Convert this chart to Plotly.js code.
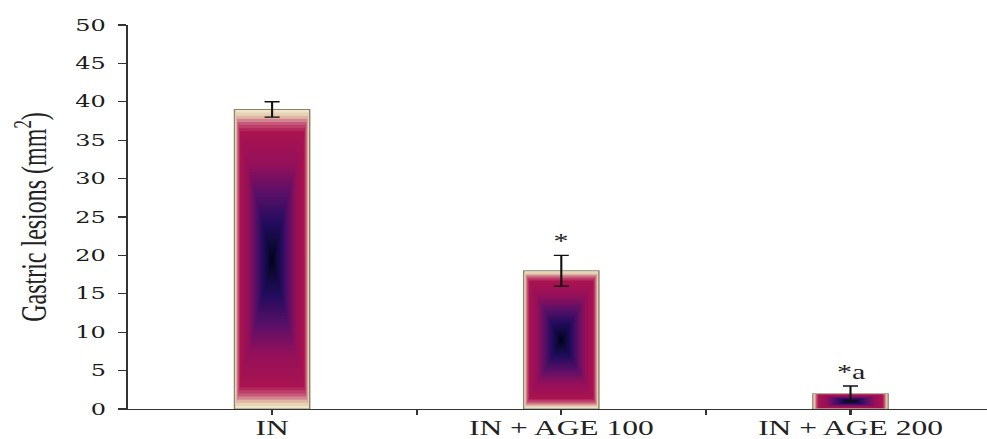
<!DOCTYPE html>
<html>
<head>
<meta charset="utf-8">
<script src="https://cdn.plot.ly/plotly-3.0.1.min.js"></script>
<style>
  html, body { margin: 0; padding: 0; background: #fff; overflow: hidden; }
  #wrap { width: 987px; height: 439px; overflow: hidden; }
  #chart { width: 658px; height: 439px; transform: scaleX(1.5); transform-origin: 0 0; }
</style>
</head>
<body>
<div id="wrap"><div id="chart"></div></div>
<script>
// ---- data ----
const categories = ["IN", "IN + AGE 100", "IN + AGE 200"];
const lesionMeans = [39, 18, 2];
const lesionErrors = [1, 2, 1];
const sigLabels = ["", "*", "*a"];
const yTickValues = [0, 5, 10, 15, 20, 25, 30, 35, 40, 45, 50];
const groupBoundaries = [0.5, 1.5];

// ---- style ----
const BAR_WIDTH = 0.26;
const LAYERS = 48;
const stops = [
  [0.00, "#eee4c8"],
  [0.035, "#e2c6aa"],
  [0.08, "#c85c7c"],
  [0.14, "#aa1450"],
  [0.36, "#94105a"],
  [0.55, "#5a1068"],
  [0.75, "#220c5e"],
  [0.92, "#0a0830"],
  [1.00, "#000010"]
];
function hexToRgb(h) {
  return [parseInt(h.slice(1,3),16), parseInt(h.slice(3,5),16), parseInt(h.slice(5,7),16)];
}
function colorAt(s) {
  for (let i = 0; i < stops.length - 1; i++) {
    const [a, ca] = stops[i], [b, cb] = stops[i+1];
    if (s >= a && s <= b) {
      const f = (s - a) / (b - a);
      const A = hexToRgb(ca), B = hexToRgb(cb);
      const c = A.map((v, j) => Math.round(v + (B[j] - v) * f));
      return `rgb(${c[0]},${c[1]},${c[2]})`;
    }
  }
  return stops[stops.length-1][1];
}

const traces = [];
for (let k = 0; k < LAYERS; k++) {
  const s = k / LAYERS;
  traces.push({
    type: "bar",
    x: categories,
    y: lesionMeans.map(v => v * (1 - s)),
    base: lesionMeans.map(v => v * s / 2),
    width: BAR_WIDTH * (1 - s),
    marker: {
      color: colorAt(s),
      line: { color: k === 0 ? "#8c8470" : "rgba(0,0,0,0)", width: k === 0 ? 1 : 0 }
    },
    hoverinfo: "skip",
    showlegend: false
  });
}
traces.push({
  type: "scatter",
  mode: "markers",
  x: categories,
  y: lesionMeans,
  marker: { size: 1, opacity: 0 },
  error_y: { type: "data", array: lesionErrors, visible: true, color: "#111", thickness: 1.4, width: 5 },
  showlegend: false,
  hoverinfo: "skip"
});
// helper trace for boundary ticks
traces.push({
  type: "scatter", mode: "markers", x: groupBoundaries, y: [0, 0],
  xaxis: "x2", yaxis: "y", marker: { size: 1, opacity: 0 }, showlegend: false, hoverinfo: "skip"
});

const annotations = [];
categories.forEach((c, i) => {
  if (sigLabels[i]) {
    annotations.push({
      x: c, y: lesionMeans[i] + lesionErrors[i], xref: "x", yref: "y",
      text: sigLabels[i], showarrow: false, yanchor: "bottom", yshift: 1,
      font: { family: "Liberation Serif, Times New Roman, serif", size: 20, color: "#222" }
    });
  }
});

const layout = {
  width: 658, height: 439,
  margin: { l: 85, r: 0, t: 25, b: 30, pad: 0 },
  paper_bgcolor: "#fff", plot_bgcolor: "#fff",
  barmode: "overlay",
  showlegend: false,
  xaxis: {
    type: "category",
    range: [-0.5, 2.472],
    showline: true, linecolor: "#333", linewidth: 1.2,
    ticks: "outside", ticklen: 5, tickwidth: 1.5, tickcolor: "#333",
    ticklabelstandoff: -5,
    showgrid: false, zeroline: false,
    tickfont: { family: "Liberation Serif, Times New Roman, serif", size: 21, color: "#222" }
  },
  xaxis2: {
    overlaying: "x", anchor: "y", side: "bottom",
    range: [-0.5, 2.472],
    tickvals: groupBoundaries, showticklabels: false,
    ticks: "outside", ticklen: 5, tickwidth: 1.5, tickcolor: "#333",
    showline: false, showgrid: false, zeroline: false
  },
  yaxis: {
    range: [0, 50],
    tickvals: yTickValues,
    showline: true, linecolor: "#333", linewidth: 1.2,
    ticks: "outside", ticklen: 5, tickwidth: 1.2, tickcolor: "#333",
    ticklabelstandoff: 5,
    showgrid: false, zeroline: false,
    tickfont: { family: "DejaVu Serif, serif", size: 16, color: "#1a1a1a" },
    title: {
      text: "Gastric lesions (mm<sup>2</sup>)",
      font: { family: "Liberation Serif, Times New Roman, serif", size: 24, color: "#222" },
      standoff: 12
    }
  },
  annotations: annotations
};

Plotly.newPlot("chart", traces, layout, { staticPlot: true, displayModeBar: false });
</script>
</body>
</html>
